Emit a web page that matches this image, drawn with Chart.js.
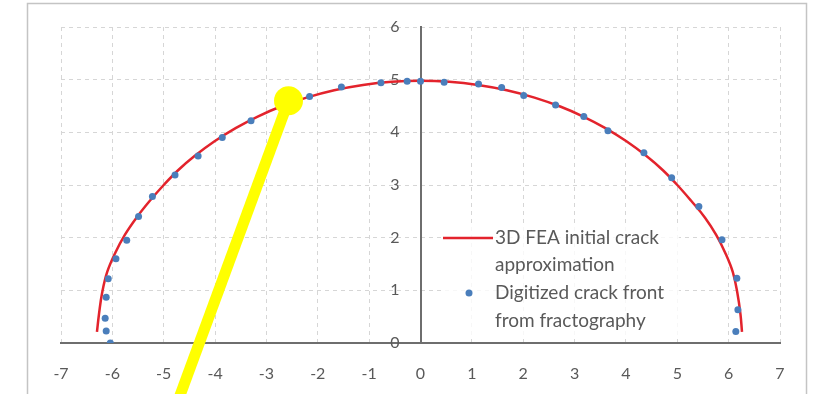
<!DOCTYPE html>
<html>
<head>
<meta charset="utf-8">
<script src="https://cdn.jsdelivr.net/npm/chart.js@4/dist/chart.umd.min.js"></script>
<style>
  html, body { margin: 0; padding: 0; background: #fff; }
  canvas { display: block; }
</style>
</head>
<body>
<canvas id="chart" width="813" height="394"></canvas>
<script>
// Crack front geometry (mm): FEA approximation curve
const feaX = [-6.30, -6.26, -6.20, -6.10, -5.94, -5.76, -5.53, -5.27, -5.00, -4.72, -4.40, -4.01, -3.60, -3.17, -2.72, -2.22, -1.68, -1.12, -0.56, 0.00,
              0.56, 1.12, 1.68, 2.22, 2.72, 3.17, 3.60, 4.01, 4.40, 4.72, 5.00, 5.27, 5.54, 5.76, 5.93, 6.08, 6.17, 6.23, 6.26];
const feaY = [0.21, 0.55, 0.95, 1.35, 1.72, 2.05, 2.38, 2.70, 3.00, 3.28, 3.55, 3.83, 4.08, 4.30, 4.49, 4.66, 4.80, 4.90, 4.96, 4.98,
              4.96, 4.90, 4.80, 4.66, 4.49, 4.30, 4.08, 3.83, 3.55, 3.28, 3.00, 2.70, 2.38, 2.05, 1.72, 1.35, 0.95, 0.55, 0.21];

const digX = [-6.04, -6.12, -6.14, -6.12, -6.08, -5.93, -5.72, -5.49, -5.22, -4.78, -4.33, -3.86, -3.30, -2.72, -2.16, -1.54, -0.77,
              -0.26, 0.00, 0.46, 1.13, 1.58, 2.01, 2.63, 3.18, 3.65, 4.35, 4.89, 5.42, 5.87, 6.16, 6.18, 6.14];
const digY = [0.00, 0.23, 0.47, 0.87, 1.22, 1.60, 1.95, 2.40, 2.78, 3.19, 3.55, 3.90, 4.22, 4.47, 4.68, 4.86, 4.94,
              4.97, 4.97, 4.95, 4.92, 4.85, 4.70, 4.52, 4.30, 4.03, 3.61, 3.14, 2.59, 1.96, 1.23, 0.63, 0.22];

// Highlight pointer: marker head and tail
const pointerX = [-2.57, -4.76];
const pointerY = [4.60, -1.20];

// Axis ranges
const xRange = [-7, 7];
const yRange = [0, 6];

// Series names
const seriesNames = [
  ['3D FEA initial crack', 'approximation'],
  ['Digitized crack front', 'from fractography']
];

const toPoints = (xs, ys) => xs.map((x, i) => ({ x, y: ys[i] }));

const FONT = 'Lato, "Open Sans", sans-serif';
const TEXT = '#595959';
const RED = '#e3232c';
const BLUE = '#4a7ebb';

const framePlugin = {
  id: 'frame',
  beforeDraw(chart) {
    const ctx = chart.ctx;
    ctx.save();
    ctx.fillStyle = '#ffffff';
    ctx.fillRect(0, 0, chart.width, chart.height);
    ctx.strokeStyle = '#c4c4c4';
    ctx.lineWidth = 1.5;
    ctx.strokeRect(27.5, 3.5, 779, 440);
    ctx.restore();
  }
};

// Y tick labels sit to the left of the vertical axis that crosses at x = 0
const yLabelPlugin = {
  id: 'yAxisLabels',
  beforeDatasetsDraw(chart) {
    const { ctx, scales: { x, y } } = chart;
    const axisX = x.getPixelForValue(0);
    ctx.save();
    ctx.font = '16px ' + FONT;
    ctx.fillStyle = TEXT;
    ctx.textAlign = 'right';
    ctx.textBaseline = 'middle';
    y.ticks.forEach(t => {
      ctx.fillText(String(t.value), axisX - 21, y.getPixelForValue(t.value));
    });
    ctx.restore();
  }
};

const legendPlugin = {
  id: 'innerLegend',
  afterDatasetsDraw(chart) {
    const ctx = chart.ctx;
    const a = chart.chartArea;
    const left = a.left + 382;
    const top = a.top + 199;
    ctx.save();
    ctx.fillStyle = 'rgba(255,255,255,0.8)';
    ctx.fillRect(left, top, 236, 112);
    ctx.font = '19px ' + FONT;
    ctx.textBaseline = 'middle';
    ctx.textAlign = 'left';
    const textX = left + 52;
    const rows = [top + 12, top + 39, top + 67, top + 95];
    // line sample
    ctx.strokeStyle = RED;
    ctx.lineWidth = 2.5;
    ctx.beginPath();
    ctx.moveTo(left, rows[0]);
    ctx.lineTo(left + 50, rows[0]);
    ctx.stroke();
    // marker sample
    ctx.fillStyle = BLUE;
    ctx.beginPath();
    ctx.arc(left + 26, rows[2], 3.5, 0, Math.PI * 2);
    ctx.fill();
    ctx.fillStyle = TEXT;
    ctx.fillText(seriesNames[0][0], textX, rows[0]);
    ctx.fillText(seriesNames[0][1], textX, rows[1]);
    ctx.fillText(seriesNames[1][0], textX, rows[2]);
    ctx.fillText(seriesNames[1][1], textX, rows[3]);
    ctx.restore();
  }
};

new Chart(document.getElementById('chart'), {
  type: 'scatter',
  data: {
    datasets: [
      {
        label: 'pointer',
        data: toPoints(pointerX, pointerY),
        showLine: true,
        borderColor: '#ffff00',
        borderWidth: 11,
        borderCapStyle: 'butt',
        pointRadius: [14.5, 0],
        pointBackgroundColor: '#ffff00',
        pointBorderWidth: 0,
        clip: false
      },
      {
        label: seriesNames[1].join(' '),
        data: toPoints(digX, digY),
        showLine: false,
        pointRadius: 3.5,
        pointBackgroundColor: BLUE,
        pointBorderWidth: 0
      },
      {
        label: seriesNames[0].join(' '),
        data: toPoints(feaX, feaY),
        showLine: true,
        borderColor: RED,
        borderWidth: 2.5,
        tension: 0.4,
        pointRadius: 0
      }
    ]
  },
  options: {
    responsive: false,
    animation: false,
    devicePixelRatio: 1,
    layout: { padding: { left: 61, right: 33, top: 27, bottom: 0 } },
    plugins: {
      legend: { display: false },
      tooltip: { enabled: false }
    },
    scales: {
      x: {
        type: 'linear',
        min: xRange[0],
        max: xRange[1],
        afterFit(scale) { scale.height = 51; },
        ticks: { stepSize: 1, color: TEXT, font: { family: FONT, size: 16 }, padding: 17 },
        grid: { color: '#d6d6d6', lineWidth: 1, drawTicks: true, tickLength: 4, tickColor: 'rgba(0,0,0,0)' },
        border: { display: true, color: '#6e6e6e', width: 2, dash: [4, 4] }
      },
      y: {
        type: 'linear',
        position: { x: 0 },
        min: yRange[0],
        max: yRange[1],
        ticks: { stepSize: 1, display: false },
        grid: { color: '#d6d6d6', lineWidth: 1, drawTicks: false },
        border: { display: true, color: '#6e6e6e', width: 2, dash: [4, 4] }
      }
    }
  },
  plugins: [framePlugin, yLabelPlugin, legendPlugin]
});
</script>
</body>
</html>
